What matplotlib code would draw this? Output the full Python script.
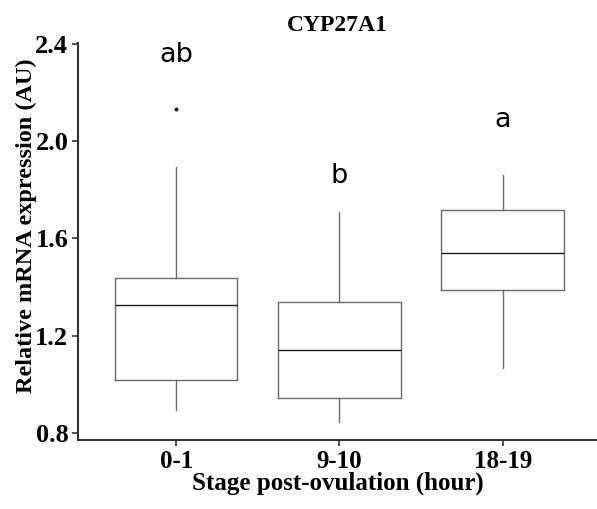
import matplotlib
matplotlib.use("Agg")
import matplotlib.pyplot as plt

# values
stages = ["0-1", "9-10", "18-19"]
whislo = [0.895, 0.845, 1.068]
q1 = [1.017, 0.942, 1.388]
med = [1.325, 1.141, 1.539]
q3 = [1.439, 1.340, 1.717]
whishi = [1.896, 1.710, 1.861]
outliers = [[2.133], [], []]
letters = ["ab", "b", "a"]
letter_y = [2.328, 1.828, 2.059]

serif = ["Times New Roman", "Liberation Serif", "DejaVu Serif"]

fig = plt.figure(figsize=(5.97, 5.09), dpi=100)
ax = fig.add_axes([0.1307, 0.1356, 0.8693, 0.7799])

stats = []
for i, lab in enumerate(stages):
    stats.append(dict(label=lab, whislo=whislo[i], q1=q1[i], med=med[i],
                      q3=q3[i], whishi=whishi[i], fliers=outliers[i]))

pos = range(1, len(stages) + 1)
ax.bxp(stats, positions=pos, widths=0.75, showcaps=False,
       boxprops=dict(color="#6a6a6a", linewidth=1.0),
       whiskerprops=dict(color="#6a6a6a", linewidth=1.0),
       medianprops=dict(color="#1a1a1a", linewidth=1.0),
       flierprops=dict(marker="o", markersize=1.8, markerfacecolor="black",
                       markeredgecolor="black"))

# significance letters
for p, t, y in zip(pos, letters, letter_y):
    ax.text(p, y, t, ha="center", va="baseline", fontsize=19.5,
            family="DejaVu Sans")

ax.set_xlim(0.399, 3.578)
ax.set_ylim(0.770, 2.405)
ax.set_yticks([0.8, 1.2, 1.6, 2.0, 2.4])
ax.set_yticklabels(["0.8", "1.2", "1.6", "2.0", "2.4"])
ax.set_xticks(list(pos))
ax.set_xticklabels(stages)

for side in ["top", "right"]:
    ax.spines[side].set_visible(False)
for side in ["left", "bottom"]:
    ax.spines[side].set_color("#333333")
    ax.spines[side].set_linewidth(1.5)

ax.tick_params(axis="both", length=4, width=1.2, color="#333333", pad=3)
for lab in ax.get_xticklabels():
    lab.set_family(serif)
    lab.set_fontweight("bold")
    lab.set_fontsize(18)
for lab in ax.get_yticklabels():
    lab.set_family(serif)
    lab.set_fontweight("bold")
    lab.set_fontsize(19)

ax.set_xlabel("Stage post-ovulation (hour)", family=serif, fontweight="bold",
              fontsize=18)
ax.set_ylabel("Relative mRNA expression (AU)", family=serif, fontweight="bold",
              fontsize=17.5)
ax.yaxis.set_label_coords(-0.079, 0.54)
ax.xaxis.set_label_coords(0.5, -0.08)
ax.set_title("CYP27A1", family=serif, fontweight="bold", fontsize=17, pad=9)

fig.savefig("out.png", dpi=100)
